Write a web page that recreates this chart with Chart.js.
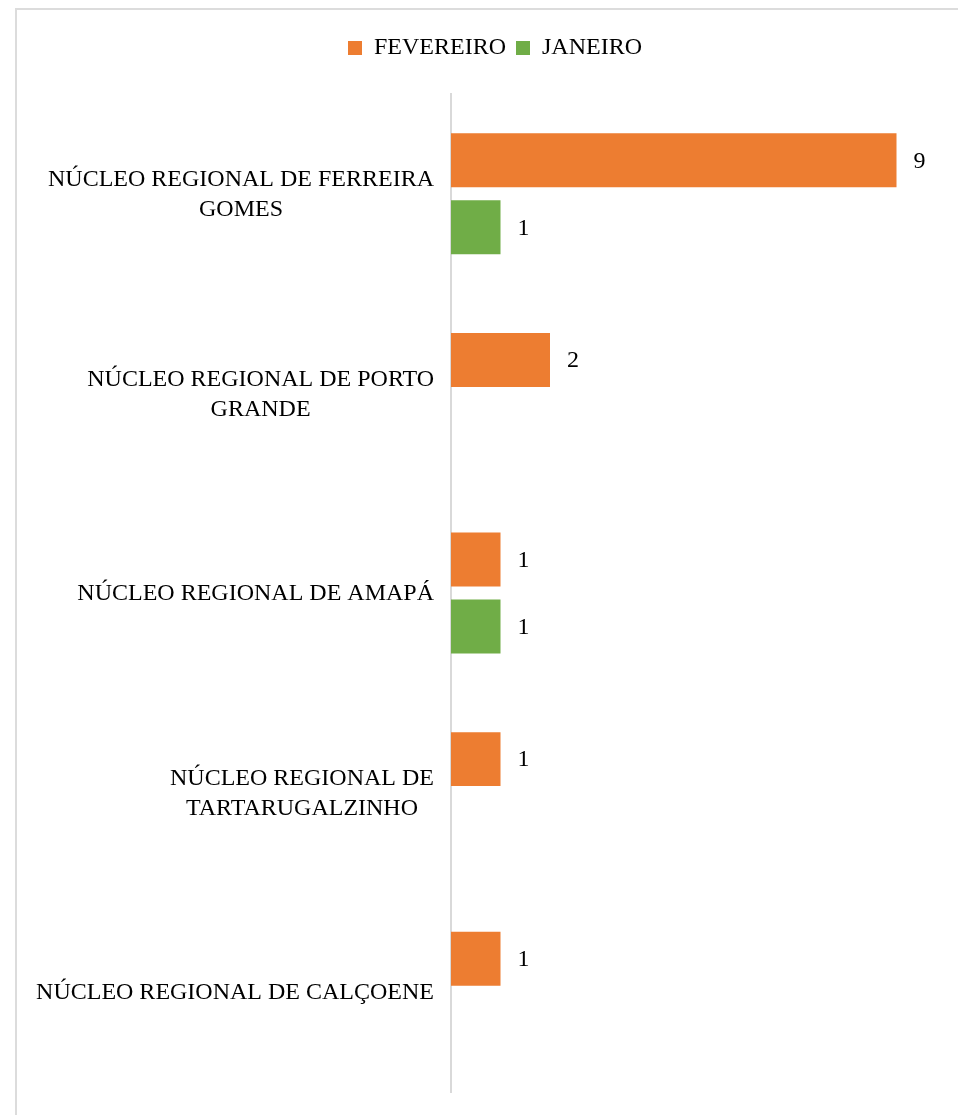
<!DOCTYPE html>
<html>
<head>
<meta charset="utf-8">
<script src="https://cdn.jsdelivr.net/npm/chart.js@4"></script>
<style>
  body { margin: 0; background: #fff; }
  #wrap { position: relative; width: 958px; height: 1115px; }
  #frame { position: absolute; left: 15px; top: 8px; right: 0; bottom: 0;
           border-top: 2px solid #dcdcdc; border-left: 2px solid #dcdcdc; }
</style>
</head>
<body>
<div id="wrap">
  <div id="frame"></div>
  <canvas id="chart"></canvas>
</div>
<script>
// --- Chart data ---
const categories = [
  ['NÚCLEO REGIONAL DE FERREIRA', 'GOMES'],
  ['NÚCLEO REGIONAL DE PORTO', 'GRANDE'],
  ['NÚCLEO REGIONAL DE AMAPÁ'],
  ['NÚCLEO REGIONAL DE', 'TARTARUGALZINHO'],
  ['NÚCLEO REGIONAL DE CALÇOENE']
];
const fevereiro = [9, 2, 1, 1, 1];
const janeiro = [1, null, 1, null, null];

const FONT = "'Liberation Serif', 'Times New Roman', serif";

// draws the category labels: block right-aligned to the axis, lines centred in the block
const categoryLabels = {
  id: 'categoryLabels',
  afterDraw(chart) {
    const ctx = chart.ctx;
    const yScale = chart.scales.y;
    const right = chart.chartArea.left - 17;
    ctx.save();
    ctx.font = '24px ' + FONT;
    ctx.fillStyle = '#000';
    ctx.textAlign = 'center';
    ctx.textBaseline = 'middle';
    categories.forEach((lines, i) => {
      const cy = yScale.getPixelForValue(i);
      const w = Math.max(...lines.map(l => ctx.measureText(l).width));
      const cx = right - w / 2;
      const lh = 30;
      lines.forEach((line, j) => {
        ctx.fillText(line, cx, cy + (j - (lines.length - 1) / 2) * lh + 1);
      });
    });
    ctx.restore();
  }
};

// value labels to the right of each bar
const valueLabels = {
  id: 'valueLabels',
  afterDatasetsDraw(chart) {
    const ctx = chart.ctx;
    ctx.save();
    ctx.font = '24px ' + FONT;
    ctx.fillStyle = '#000';
    ctx.textAlign = 'center';
    ctx.textBaseline = 'middle';
    chart.data.datasets.forEach((ds, di) => {
      chart.getDatasetMeta(di).data.forEach((bar, i) => {
        if (ds.data[i] == null) return;
        ctx.fillText(String(ds.data[i]), bar.x + 23, bar.y + 1);
      });
    });
    ctx.restore();
  }
};

new Chart(document.getElementById('chart'), {
  type: 'bar',
  data: {
    labels: categories,
    datasets: [
      { label: 'FEVEREIRO', data: fevereiro, backgroundColor: '#ED7D31' },
      { label: 'JANEIRO', data: janeiro, backgroundColor: '#70AD47' }
    ]
  },
  options: {
    indexAxis: 'y',
    responsive: true,
    maintainAspectRatio: false,
    animation: false,
    categoryPercentage: 0.671,
    barPercentage: 0.806,
    layout: { padding: { top: 26, right: 12, bottom: 23, left: 44 } },
    scales: {
      x: {
        position: 'top',
        min: 0,
        max: 10,
        ticks: { display: false },
        grid: { display: false },
        border: { display: false },
        afterFit: s => { s.height = 24; }
      },
      y: {
        ticks: { display: false },
        grid: { display: false },
        border: { display: true, color: '#d9d9d9', width: 2 },
        afterFit: s => { s.width = 407; }
      }
    },
    plugins: {
      legend: {
        position: 'top',
        labels: {
          boxWidth: 14,
          boxHeight: 14,
          padding: 10,
          color: '#000',
          font: { family: FONT, size: 24 }
        }
      },
      tooltip: { enabled: false }
    }
  },
  plugins: [categoryLabels, valueLabels]
});
</script>
</body>
</html>
